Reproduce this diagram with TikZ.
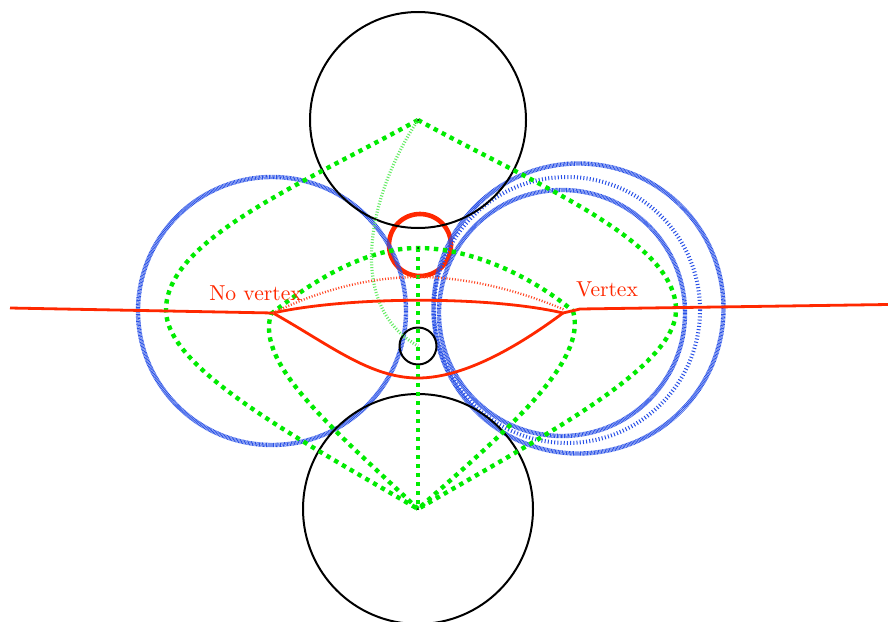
\documentclass[tikz,border=0pt]{standalone}
\usepackage{xcolor}
\definecolor{myred}{RGB}{255,40,0}
\definecolor{mygreen}{RGB}{0,235,0}
\definecolor{lgreen}{RGB}{100,235,100}
\definecolor{myblue}{RGB}{40,80,230}
\begin{document}
\begin{tikzpicture}[x=0.5pt,y=-0.5pt,
  blackc/.style={line width=1pt},
  bluedense/.style={myblue, line width=2.2pt, dash pattern=on 0.4pt off 0.3pt},
  bluesparse/.style={myblue, line width=2pt, dash pattern=on 0.5pt off 1.1pt},
  greendot/.style={mygreen, line width=2.2pt, dash pattern=on 2.2pt off 2.3pt},
  greenthin/.style={lgreen, line width=1.6pt, dash pattern=on 0.5pt off 0.9pt},
  redline/.style={myred, line width=1.4pt},
  reddot/.style={myred!85, line width=1.2pt, dash pattern=on 0.5pt off 0.9pt},
  lab/.style={text=myred, font=\fontsize{10.8}{13}\selectfont, inner sep=0pt}]
\useasboundingbox (0,0) rectangle (888,621);
\coordinate (T) at (418,120);
\coordinate (B) at (418,509);
\coordinate (NV) at (273,313);
\coordinate (V) at (563,313);
\coordinate (VR) at (580,309);
\coordinate (L) at (10,308);
\coordinate (R) at (888,304.5);
\coordinate (Gtop) at (418,248);
\coordinate (S) at (418,346);
\coordinate (GL) at (271,314);
\coordinate (GR) at (573,311);
% red ring
\draw[myred, line width=2.3pt] (420,245) circle[radius=31];
% blue circles
\draw[bluedense] (272,311) circle[radius=134];
\draw[bluedense] (578.5,308.5) circle[radius=145];
\draw[bluesparse] (567,310) circle[radius=133];
\draw[bluedense] (562,313) circle[radius=123];
% black circles
\draw[blackc] (T) circle[radius=108];
\draw[blackc] (B) circle[radius=115];
\draw[blackc] (S) circle[radius=18.5];
% green
\draw[greendot] (T) .. controls (300,185) and (166,240) .. (166,310) .. controls (166,368) and (295,437) .. (B);
\draw[greendot] (T) .. controls (536,185) and (676,240) .. (676,310) .. controls (676,368) and (541,437) .. (B);
\draw[greendot] (B) .. controls (335,430) and (255,365) .. (GL);
\draw[greendot] (GL) .. controls (320,275) and (370,248) .. (Gtop) .. controls (470,248) and (530,275) .. (GR);
\draw[greendot] (GR) .. controls (588,362) and (507,430) .. (B);
\draw[greendot] (Gtop) -- (B);
\draw[greenthin] (T) .. controls (368,195) and (345,305) .. (S);
% red lines
\draw[redline] (L) -- (NV);
\draw[redline] (NV) .. controls (350,296) and (490,296) .. (V);
\draw[redline] (NV) .. controls (330,345) and (370,378) .. (418,378) .. controls (465,378) and (520,345) .. (V);
\draw[redline] (V) -- (VR) -- (R);
\draw[reddot] (NV) .. controls (320,290) and (370,277) .. (418,277) .. controls (466,277) and (518,290) .. (565,310);
% tiny centre marks
\fill (T) circle[radius=1];
\fill (Gtop) circle[radius=1];
\fill (B) circle[radius=1];
% labels
\node[lab] (nvlab) at (255.5,293.5) {No vertex};
\node[lab] (vlab) at (607,289) {Vertex};
\end{tikzpicture}
\end{document}
